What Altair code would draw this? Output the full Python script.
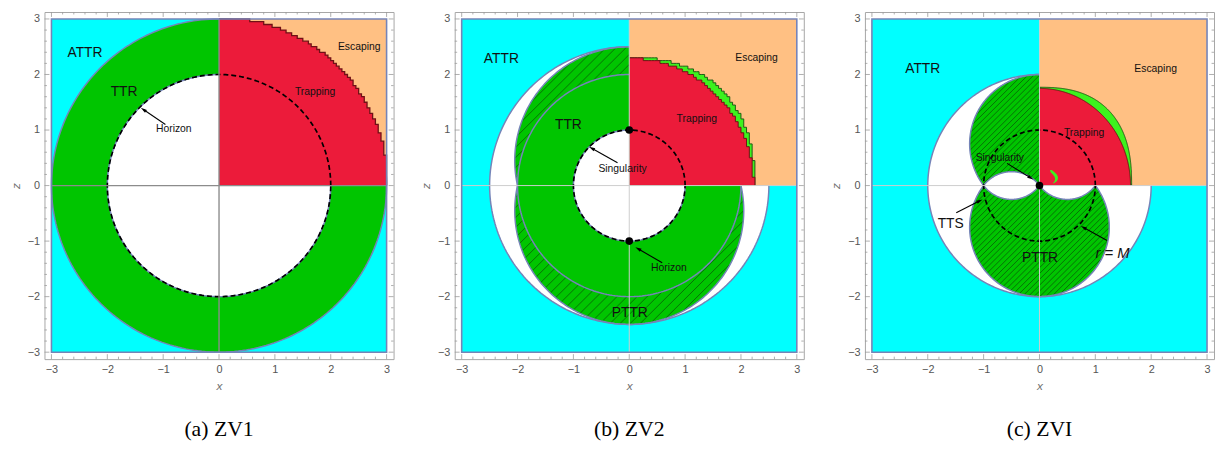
import numpy as np
import pandas as pd
import altair as alt

# ---------------- colours ----------------
CYAN, ORANGE, RED = "#00ffff", "#ffc083", "#ec1b3a"
GREEN, LGREEN = "#00c500", "#3df21e"
EDGE, DARKRED, DARKGREEN, HATCH = "#7584b8", "#701016", "#1f5a14", "#0c360c"
AXLINE_A, AXLINE_BC, FRAME, TICKC = "#8c8c8c", "#cdcdcd", "#a6a6a6", "#9a9a9a"

# ---------------- axes / layout values ----------------
DOMAIN = [-3.125, 3.125]
BOX = [-3, 3]
MAJOR = [-3, -2, -1, 0, 1, 2, 3]
MINOR = [round(m + 0.2 * k, 1) for m in MAJOR[:-1] for k in (1, 2, 3, 4)]
CAPTIONS = ["(a) ZV1", "(b) ZV2", "(c) ZVI"]
W, H = 354, 352

# ---------------- panel (a) ZV1 (radii) ----------------
A_TTR_R = 3.0
A_HORIZON_R = 2.0
A_TRAP_R = 3.03
A_BIG_TXT = ["ATTR", "TTR"]
A_BIG_X = [-2.40, -1.70]
A_BIG_Z = [2.39, 1.69]
A_SM_TXT = ["Horizon", "Trapping", "Escaping"]
A_SM_X = [-0.81, 1.72, 2.51]
A_SM_Z = [1.02, 1.69, 2.50]
A_ARR = {"x0": [-0.96], "z0": [1.10], "x1": [-1.40], "z1": [1.40]}

# ---------------- panel (b) ZV2 ----------------
B_OUTER_R = 2.5
B_LOBE_CZ = 0.45
B_LOBE_R = 2.05
B_TTR_R = 2.0
B_HORIZON_R = 1.0
B_TRAP = (2.23, 2.29, 2.0)     # semi-axis x, semi-axis z, exponent
B_BAND = (2.25, 2.31, 2.3)
B_HATCH_STEP = 0.18
B_BIG_TXT = ["ATTR", "TTR", "PTTR"]
B_BIG_X = [-2.29, -1.09, 0.01]
B_BIG_Z = [2.28, 1.09, -2.30]
B_SM_TXT = ["Singularity", "Horizon", "Trapping", "Escaping"]
B_SM_X = [-0.12, 0.71, 1.21, 2.28]
B_SM_Z = [0.30, -1.49, 1.19, 2.29]
B_ARR = {"x0": [-0.21, 0.59], "z0": [0.41, -1.39], "x1": [-0.72, 0.11], "z1": [0.70, -1.11]}
B_DOT_X = [0, 0]
B_DOT_Z = [1, -1]

# ---------------- panel (c) ZVI ----------------
C_OUTER_R = 2.0
C_LOBE_CZ = 0.75
C_LOBE_R = 1.25
C_LENSES = [(-1.0, 0.0), (0.0, 1.0)]
C_LENS_SAG = 0.25
C_M_R = 1.0
C_TRAP = (1.63, 1.75, 2.0)
C_BAND = (1.65, 1.77, 2.5)
C_HATCH_STEP = 0.105
C_BLOB_Z = [0.04, 0.08, 0.12, 0.16, 0.20, 0.24, 0.28]
C_BLOB_XIN = [0.24, 0.27, 0.28, 0.27, 0.24, 0.20, 0.19]
C_BLOB_XOUT = [0.26, 0.31, 0.33, 0.33, 0.31, 0.27, 0.22]
C_BIG_TXT = ["ATTR", "TTS", "PTTR"]
C_BIG_X = [-2.09, -1.59, 0.01]
C_BIG_Z = [2.09, -0.70, -1.31]
C_SM_TXT = ["Escaping", "Trapping", "Singularity"]
C_SM_X = [2.08, 0.80, -0.71]
C_SM_Z = [2.10, 0.94, 0.50]
C_IT_TXT = ["r = M"]
C_IT_X = [1.31]
C_IT_Z = [-1.22]
C_ARR = {"x0": [-0.58, -1.49, 1.21], "z0": [0.40, -0.49, -0.99],
         "x1": [-0.11, -1.02, 0.74], "z1": [0.11, -0.25, -0.73]}
C_DOT_X = [0]
C_DOT_Z = [0]

# ---------------- encodings ----------------
SX = alt.Scale(domain=DOMAIN, nice=False, zero=False)
SY = alt.Scale(domain=DOMAIN, nice=False, zero=False)
AXX = alt.Axis(title="x", values=MAJOR, ticks=False, tickSize=0, domain=False, grid=False,
               labelPadding=5, titlePadding=6, format="d")
AXY = alt.Axis(title="z", values=MAJOR, ticks=False, tickSize=0, domain=False, grid=False,
               labelPadding=5, titlePadding=5, format="d")


def X(f="x"):
    return alt.X(f + ":Q", scale=SX, axis=AXX)


def Y(f="y"):
    return alt.Y(f + ":Q", scale=SY, axis=AXY, stack=None)


# ---------------- geometry helpers ----------------
def disk(cx, cz, r, n=241):
    t = np.linspace(np.pi, 0, n)
    return pd.DataFrame({"x": cx + r * np.cos(t), "y": cz - r * np.sin(t), "y2": cz + r * np.sin(t)})


def arcs(specs, n=260):
    rows = []
    for g, (cx, cz, r, a0, a1) in enumerate(specs):
        t = np.radians(np.linspace(a0, a1, n))
        for i, tt in enumerate(t):
            rows.append((cx + r * np.cos(tt), cz + r * np.sin(tt), i, g))
    return pd.DataFrame(rows, columns=["x", "y", "i", "g"])


def lens(x0, x1, sag, n=121):
    h = (x1 - x0) / 2
    xm = (x0 + x1) / 2
    R = (h * h + sag * sag) / (2 * sag)
    d = R - sag
    x = np.linspace(x0, x1, n)
    z = np.clip(-d + np.sqrt(np.maximum(R * R - (x - xm) ** 2, 0)), 0, None)
    area = pd.DataFrame({"x": x, "y": -z, "y2": z})
    ln = pd.concat([pd.DataFrame({"x": x, "y": z, "i": np.arange(n), "g": 0}),
                    pd.DataFrame({"x": x, "y": -z, "i": np.arange(n), "g": 1})])
    return area, ln


def hatch(circles, step):
    rows = []
    for c in np.arange(-6.5, 6.5, step):
        iv = []
        for cx, cz, R in circles:
            B = 2 * (c - cx - cz)
            C = (c - cx) ** 2 + cz ** 2 - R ** 2
            disc = B * B - 8 * C
            if disc <= 0:
                continue
            s = np.sqrt(disc)
            iv.append([(-B - s) / 4, (-B + s) / 4])
        iv.sort()
        merged = []
        for a, b in iv:
            if merged and a <= merged[-1][1]:
                merged[-1][1] = max(merged[-1][1], b)
            else:
                merged.append([a, b])
        for a, b in merged:
            rows.append({"x": a + c, "y": a, "x2": b + c, "y2": b})
    return pd.DataFrame(rows)


def inside_fn(a, b, p):
    return lambda x, z: (np.abs(x) / a) ** p + (np.abs(z) / b) ** p < 1


def stair(inside, step, xmax, zmax):
    xs = np.arange(0, xmax - 1e-9, step)
    nz = int(round(zmax / step))
    zc = (np.arange(nz) + 0.5) * step
    hs = []
    for x0 in xs:
        ins = inside(x0 + step / 2, zc)
        n = nz if ins.all() else int(np.argmin(ins))
        hs.append(n * step)
    xs = list(xs)
    while hs and hs[-1] == 0:
        hs.pop()
        xs.pop()
    xs.append(xs[-1] + step)
    hs.append(0.0)
    area = pd.DataFrame({"x": xs, "y": 0.0, "y2": hs})
    ln = pd.DataFrame({"x": xs, "y": hs, "i": np.arange(len(xs)), "g": 0})
    return area, ln


def quad_curve(a, b, p, n=240):
    t = np.linspace(0, np.pi / 2, n)
    x = a * np.cos(t) ** (2 / p)
    z = b * np.sin(t) ** (2 / p)
    area = pd.DataFrame({"x": x, "y": 0.0, "y2": z})
    ln = pd.DataFrame({"x": x, "y": z, "i": np.arange(n), "g": 0})
    return area, ln


# ---------------- layer helpers ----------------
BOX_DF = pd.DataFrame({"x": [BOX[0]], "x2": [BOX[1]], "y": [BOX[0]], "y2": [BOX[1]]})
QUAD_DF = pd.DataFrame({"x": [0], "x2": [BOX[1]], "y": [0], "y2": [BOX[1]]})
AXL_DF = pd.DataFrame({"x": [0, BOX[0]], "x2": [0, BOX[1]], "y": [BOX[0], 0], "y2": [BOX[1], 0]})


def rect(df, color):
    return alt.Chart(df).mark_rect(color=color, opacity=1).encode(
        x=X(), x2=alt.X2("x2"), y=Y(), y2=alt.Y2("y2"))


def rect_outline(df):
    return alt.Chart(df).mark_rect(fillOpacity=0, stroke=EDGE, strokeWidth=1.6).encode(
        x=X(), x2=alt.X2("x2"), y=Y(), y2=alt.Y2("y2"))


def area(df, color, interp="linear"):
    return alt.Chart(df).mark_area(color=color, opacity=1, interpolate=interp).encode(
        x=X(), y=Y(), y2=alt.Y2("y2"))


def harea(df, color):
    return alt.Chart(df).mark_area(color=color, opacity=1, orient="horizontal").encode(
        y=Y(), x=X(), x2=alt.X2("x2"))


def line(df, color, sw, dash=None, interp="linear"):
    kw = dict(color=color, strokeWidth=sw, interpolate=interp)
    if dash:
        kw["strokeDash"] = dash
    return alt.Chart(df).mark_line(**kw).encode(
        x=X(), y=Y(), order=alt.Order("i:Q"), detail="g:N")


def rules(df, color, sw, opacity=1.0):
    return alt.Chart(df).mark_rule(color=color, strokeWidth=sw, opacity=opacity).encode(
        x=X(), y=Y(), x2=alt.X2("x2"), y2=alt.Y2("y2"))


def texts(txt, xs, zs, size, style="normal", font="Liberation Sans"):
    df = pd.DataFrame({"x": xs, "y": zs, "t": txt})
    return alt.Chart(df).mark_text(font=font, fontSize=size, fontStyle=style, color="#111111",
                                   align="center", baseline="middle").encode(
        x=X(), y=Y(), text="t:N")


ARROW_PATH = "M0,-1L0.55,1L-0.55,1Z"


def arrows(spec):
    x0, z0 = np.array(spec["x0"]), np.array(spec["z0"])
    x1, z1 = np.array(spec["x1"]), np.array(spec["z1"])
    dx, dz = x1 - x0, z1 - z0
    L = np.hypot(dx, dz)
    ux, uz = dx / L, dz / L
    hx, hz = x1 - ux * 0.055, z1 - uz * 0.055
    ang = np.degrees(np.arctan2(dx, dz)) % 360
    rdf = pd.DataFrame({"x": x0, "y": z0, "x2": hx, "y2": hz})
    hdf = pd.DataFrame({"x": hx, "y": hz, "a": ang})
    head = alt.Chart(hdf).mark_point(shape=ARROW_PATH, filled=True, color="black", size=40,
                                     opacity=1, strokeWidth=0).encode(
        x=X(), y=Y(), angle=alt.Angle("a:Q", scale=None))
    return [rules(rdf, "black", 1.1), head]


def dots(xs, zs):
    df = pd.DataFrame({"x": xs, "y": zs})
    return alt.Chart(df).mark_point(filled=True, color="black", size=60, opacity=1,
                                    strokeWidth=0).encode(x=X(), y=Y())


def ticks():
    out = []
    for vals, ln in ((MAJOR, 5), (MINOR, 2.5)):
        d = pd.DataFrame({"v": vals})
        base = alt.Chart(d).mark_rule(color=TICKC, strokeWidth=0.8)
        out.append(base.encode(x=X("v"), y=alt.value(H), y2=alt.value(H - ln)))
        out.append(base.encode(x=X("v"), y=alt.value(0), y2=alt.value(ln)))
        out.append(base.encode(y=Y("v"), x=alt.value(0), x2=alt.value(ln)))
        out.append(base.encode(y=Y("v"), x=alt.value(W), x2=alt.value(W - ln)))
    return out


def panel(layers, caption):
    return alt.layer(*layers).properties(
        width=W, height=H,
        title=alt.TitleParams(caption, orient="bottom", anchor="middle", frame="group",
                              font="Liberation Serif", fontSize=22, fontWeight="normal",
                              color="black", offset=28))


# ---------------- panel (a) ----------------
a_red, a_red_ln = stair(inside_fn(A_TRAP_R, A_TRAP_R, 2.0), 0.05, BOX[1], BOX[1])
la = [
    rect(BOX_DF, CYAN),
    area(disk(0, 0, A_TTR_R), GREEN),
    area(disk(0, 0, A_HORIZON_R), "white"),
    line(arcs([(0, 0, A_TTR_R, 0, 360), (0, 0, A_HORIZON_R, 0, 360)]), EDGE, 1.5),
    rect(QUAD_DF, ORANGE),
    area(a_red, RED, "step-after"),
    line(a_red_ln, DARKRED, 1.3, interp="step-after"),
    line(arcs([(0, 0, A_HORIZON_R, 0, 360)], n=400), "black", 1.7, dash=[5, 3]),
    rules(AXL_DF, AXLINE_A, 1.4),
    rect_outline(BOX_DF),
    texts(A_BIG_TXT, A_BIG_X, A_BIG_Z, 14),
    texts(A_SM_TXT, A_SM_X, A_SM_Z, 10.5),
] + arrows(A_ARR) + ticks()

# ---------------- panel (b) ----------------
b_band, b_band_ln = stair(inside_fn(*B_BAND), 0.05, BOX[1], BOX[1])
b_red, b_red_ln = stair(inside_fn(*B_TRAP), 0.05, BOX[1], BOX[1])
b_circ = [(0, B_LOBE_CZ, B_LOBE_R), (0, -B_LOBE_CZ, B_LOBE_R)]
lb = [
    rect(BOX_DF, CYAN),
    area(disk(0, 0, B_OUTER_R), "white"),
    area(disk(*b_circ[0]), GREEN),
    area(disk(*b_circ[1]), GREEN),
    rules(hatch(b_circ, B_HATCH_STEP), HATCH, 0.7, 0.85),
    line(arcs([(0, B_LOBE_CZ, B_LOBE_R, 0, 360), (0, -B_LOBE_CZ, B_LOBE_R, 0, 360),
               (0, 0, B_OUTER_R, 0, 360)]), EDGE, 1.5),
    area(disk(0, 0, B_TTR_R), GREEN),
    line(arcs([(0, 0, B_TTR_R, 0, 360)]), EDGE, 1.5),
    area(disk(0, 0, B_HORIZON_R), "white"),
    line(arcs([(0, 0, B_HORIZON_R, 0, 360)]), EDGE, 1.5),
    rect(QUAD_DF, ORANGE),
    area(b_band, LGREEN, "step-after"),
    line(b_band_ln, DARKGREEN, 1.0, interp="step-after"),
    area(b_red, RED, "step-after"),
    line(b_red_ln, DARKRED, 1.0, interp="step-after"),
    line(arcs([(0, 0, B_HORIZON_R, 0, 360)], n=300), "black", 1.7, dash=[5, 3]),
    rules(AXL_DF, AXLINE_BC, 1.0),
    dots(B_DOT_X, B_DOT_Z),
    rect_outline(BOX_DF),
    texts(B_BIG_TXT, B_BIG_X, B_BIG_Z, 14),
    texts(B_SM_TXT, B_SM_X, B_SM_Z, 10.5),
] + arrows(B_ARR) + ticks()

# ---------------- panel (c) ----------------
c_circ = [(0, C_LOBE_CZ, C_LOBE_R), (0, -C_LOBE_CZ, C_LOBE_R)]
x_int = np.sqrt(C_LOBE_R ** 2 - C_LOBE_CZ ** 2)
up_end = np.degrees(np.arctan2(-C_LOBE_CZ, -x_int)) % 360
dn_start = np.degrees(np.arctan2(C_LOBE_CZ, -x_int))
dn_end = np.degrees(np.arctan2(C_LOBE_CZ, x_int)) + 360
lensL, lensL_ln = lens(C_LENSES[0][0], C_LENSES[0][1], C_LENS_SAG)
lensR, lensR_ln = lens(C_LENSES[1][0], C_LENSES[1][1], C_LENS_SAG)
lensR_ln = lensR_ln.assign(g=lensR_ln["g"] + 2)
c_band, c_band_ln = quad_curve(*C_BAND)
c_red, c_red_ln = quad_curve(*C_TRAP)
c_blob = pd.DataFrame({"y": C_BLOB_Z, "x": C_BLOB_XIN, "x2": C_BLOB_XOUT})
lc = [
    rect(BOX_DF, CYAN),
    area(disk(0, 0, C_OUTER_R), "white"),
    area(disk(*c_circ[0]), GREEN),
    area(disk(*c_circ[1]), GREEN),
    rules(hatch(c_circ, C_HATCH_STEP), HATCH, 0.7, 0.85),
    area(lensL, "white"),
    area(lensR, "white"),
    line(arcs([(0, C_LOBE_CZ, C_LOBE_R, 90, up_end), (0, -C_LOBE_CZ, C_LOBE_R, dn_start, dn_end),
               (0, 0, C_OUTER_R, 90, 360)]), EDGE, 1.5),
    line(pd.concat([lensL_ln, lensR_ln]), EDGE, 1.5),
    rect(QUAD_DF, ORANGE),
    area(c_band, LGREEN),
    line(c_band_ln, DARKGREEN, 1.0),
    area(c_red, RED),
    line(c_red_ln, DARKRED, 1.0),
    harea(c_blob, LGREEN),
    line(arcs([(0, 0, C_M_R, 0, 360)], n=300), "black", 1.7, dash=[5, 3]),
    rules(AXL_DF, AXLINE_BC, 1.0),
    dots(C_DOT_X, C_DOT_Z),
    rect_outline(BOX_DF),
    texts(C_BIG_TXT, C_BIG_X, C_BIG_Z, 14),
    texts(C_SM_TXT, C_SM_X, C_SM_Z, 10.5),
    texts(C_IT_TXT, C_IT_X, C_IT_Z, 15, style="italic"),
] + arrows(C_ARR) + ticks()

chart = alt.hconcat(panel(la, CAPTIONS[0]), panel(lb, CAPTIONS[1]), panel(lc, CAPTIONS[2]),
                    spacing=24).properties(
    padding={"left": 0, "right": 0, "top": 0, "bottom": 0}, background="white"
).configure_view(stroke=FRAME, strokeWidth=1).configure_axis(
    labelFont="Liberation Sans", labelFontSize=11, labelColor="#555555",
    titleFont="Liberation Sans", titleFontSize=12, titleFontStyle="italic",
    titleFontWeight="normal", titleColor="#707070")

chart.save("out.html", embed_options={"renderer": "svg", "actions": False})
